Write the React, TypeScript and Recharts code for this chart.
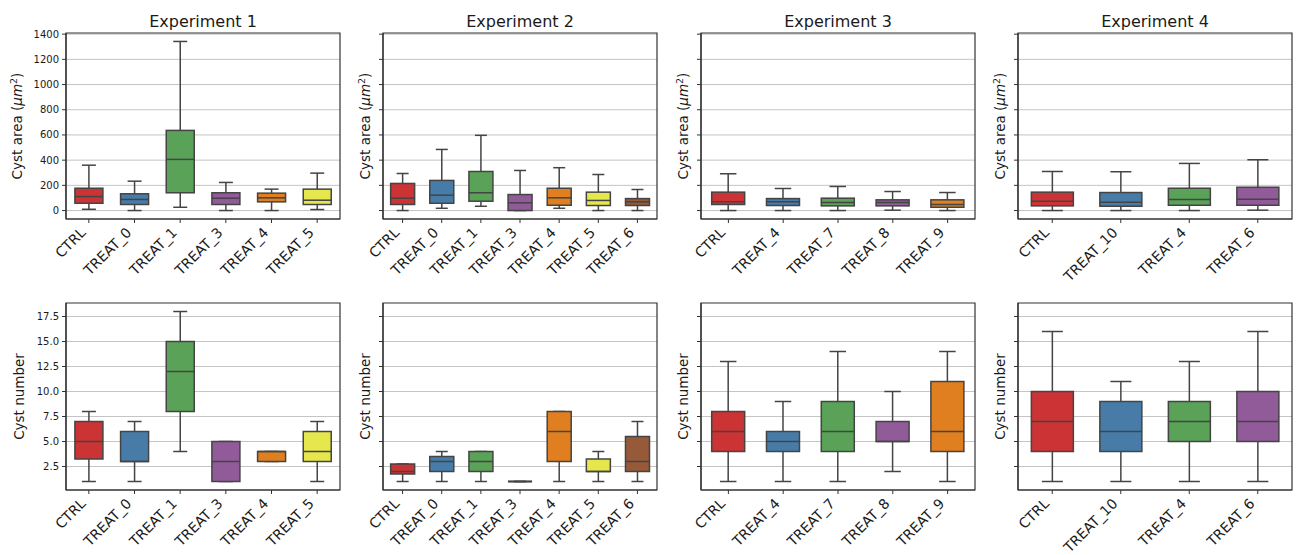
import React from 'react';
import { ComposedChart, Bar, XAxis, YAxis, CartesianGrid, ReferenceArea } from 'recharts';

// ---------- palette (seaborn Set1, desaturated) ----------
const palette = ['#cb3335', '#477ca8', '#59a257', '#915a99', '#df7f20', '#e6e64d', '#965a38'];

// ---------- Experiment 1 ----------
const exp1Categories = ['CTRL', 'TREAT_0', 'TREAT_1', 'TREAT_3', 'TREAT_4', 'TREAT_5'];
const exp1AreaMin = [10, 0, 26, 0, 0, 8];
const exp1AreaQ1 = [58, 48, 141, 48, 69, 48];
const exp1AreaMedian = [111, 88, 406, 98, 101, 82];
const exp1AreaQ3 = [177, 133, 636, 141, 138, 170];
const exp1AreaMax = [360, 233, 1342, 223, 170, 297];
const exp1NumMin = [1, 1, 4, 1, 3, 1];
const exp1NumQ1 = [3.25, 3, 8, 1, 3, 3];
const exp1NumMedian = [5, 3, 12, 3, 4, 4];
const exp1NumQ3 = [7, 6, 15, 5, 4, 6];
const exp1NumMax = [8, 7, 18, 5, 4, 7];

// ---------- Experiment 2 ----------
const exp2Categories = ['CTRL', 'TREAT_0', 'TREAT_1', 'TREAT_3', 'TREAT_4', 'TREAT_5', 'TREAT_6'];
const exp2AreaMin = [0, 18, 34, 0, 18, 0, 0];
const exp2AreaQ1 = [48, 58, 74, 0, 42, 40, 40];
const exp2AreaMedian = [98, 122, 141, 61, 101, 80, 69];
const exp2AreaQ3 = [215, 239, 310, 127, 177, 146, 95];
const exp2AreaMax = [294, 485, 597, 318, 340, 286, 167];
const exp2NumMin = [1, 1, 1, 1, 1, 1, 1];
const exp2NumQ1 = [1.75, 2, 2, 1, 3, 2, 2];
const exp2NumMedian = [2, 3, 3, 1, 6, 2, 3];
const exp2NumQ3 = [2.75, 3.5, 4, 1, 8, 3.25, 5.5];
const exp2NumMax = [2.75, 4, 4, 1, 8, 4, 7];

// ---------- Experiment 3 ----------
const exp3Categories = ['CTRL', 'TREAT_4', 'TREAT_7', 'TREAT_8', 'TREAT_9'];
const exp3AreaMin = [0, 0, 0, 3, 0];
const exp3AreaQ1 = [48, 40, 37, 37, 26];
const exp3AreaMedian = [69, 69, 64, 64, 48];
const exp3AreaQ3 = [146, 95, 98, 85, 85];
const exp3AreaMax = [292, 175, 191, 151, 143];
const exp3NumMin = [1, 1, 1, 2, 1];
const exp3NumQ1 = [4, 4, 4, 5, 4];
const exp3NumMedian = [6, 5, 6, 5, 6];
const exp3NumQ3 = [8, 6, 9, 7, 11];
const exp3NumMax = [13, 9, 14, 10, 14];

// ---------- Experiment 4 ----------
const exp4Categories = ['CTRL', 'TREAT_10', 'TREAT_4', 'TREAT_6'];
const exp4AreaMin = [0, 0, 0, 3];
const exp4AreaQ1 = [37, 34, 42, 42];
const exp4AreaMedian = [74, 66, 88, 90];
const exp4AreaQ3 = [146, 143, 177, 185];
const exp4AreaMax = [310, 308, 374, 403];
const exp4NumMin = [1, 1, 1, 1];
const exp4NumQ1 = [4, 4, 5, 5];
const exp4NumMedian = [7, 6, 7, 7];
const exp4NumQ3 = [10, 9, 9, 10];
const exp4NumMax = [16, 11, 13, 16];

// ---------- axes ----------
const areaTicks = [0, 200, 400, 600, 800, 1000, 1200, 1400];
const numTicks = [2.5, 5, 7.5, 10, 12.5, 15, 17.5];
const areaDomain: [number, number] = [-67.1, 1409.1];
const numDomain: [number, number] = [0.15, 18.85];

const EDGE = '#444444';
const SPINE = '#333333';
const FONT = '"DejaVu Sans", sans-serif';

const colLefts = [66, 383, 701, 1018];
const plotWidth = 274;
const AXIS_W = 66;

function buildRows(cats: string[], mins: number[], q1s: number[], meds: number[], q3s: number[], maxs: number[]) {
  return cats.map((name, i) => ({
    name,
    min: mins[i],
    q1: q1s[i],
    median: meds[i],
    q3: q3s[i],
    max: maxs[i],
  }));
}

const BoxShape = (props: any) => {
  const { x, y, width, height, payload, index } = props;
  if (!payload || x == null || y == null) return null;
  const pTop = Math.min(y, y + height); // pixel of max
  const pBot = Math.max(y, y + height); // pixel of min
  const hi = payload.max;
  const lo = payload.min;
  const toPx = (v: number) => (hi === lo ? pTop : pTop + ((hi - v) / (hi - lo)) * (pBot - pTop));
  const cx = x + width / 2;
  const yMax = toPx(hi);
  const yMin = toPx(lo);
  const yQ3 = toPx(payload.q3);
  const yQ1 = toPx(payload.q1);
  const yMed = toPx(payload.median);
  const capHalf = width / 4;
  const color = palette[index % palette.length];
  const sw = 1.5;
  return (
    <g>
      <line x1={cx} x2={cx} y1={yMax} y2={yQ3} stroke={EDGE} strokeWidth={sw} />
      <line x1={cx} x2={cx} y1={yQ1} y2={yMin} stroke={EDGE} strokeWidth={sw} />
      <line x1={cx - capHalf} x2={cx + capHalf} y1={yMax} y2={yMax} stroke={EDGE} strokeWidth={sw} />
      <line x1={cx - capHalf} x2={cx + capHalf} y1={yMin} y2={yMin} stroke={EDGE} strokeWidth={sw} />
      {yQ1 - yQ3 > 0.01 ? (
        <rect x={x} y={yQ3} width={width} height={yQ1 - yQ3} fill={color} stroke={EDGE} strokeWidth={sw} />
      ) : (
        <line x1={x} x2={x + width} y1={yQ3} y2={yQ3} stroke={EDGE} strokeWidth={sw * 1.3} />
      )}
      <line x1={x} x2={x + width} y1={yMed} y2={yMed} stroke={EDGE} strokeWidth={sw} />
    </g>
  );
};

const RotTick = (props: any) => {
  const { x, y, payload } = props;
  return (
    <text
      transform={`translate(${x - 2.3},${y + 8.5}) rotate(-45)`}
      textAnchor="end"
      fontSize={14}
      fill="#1a1a1a"
      fontFamily={FONT}
    >
      {payload.value}
    </text>
  );
};

type PanelProps = {
  col: number;
  rowTop: number;
  plotHeight: number;
  xAxisHeight: number;
  rows: any[];
  domain: [number, number];
  ticks: number[];
  fmt: (v: number) => string;
  yLabel: 'area' | 'number';
  labelOffset: number;
  title?: string;
};

function Panel({ col, rowTop, plotHeight, xAxisHeight, rows, domain, ticks, fmt, yLabel, labelOffset, title }: PanelProps) {
  const left = colLefts[col] - AXIS_W;
  const top = rowTop - 33;
  const width = AXIS_W + plotWidth + 2;
  const height = 33 + plotHeight + xAxisHeight;
  const showLabels = col === 0;
  const cy = 33 + plotHeight / 2;
  const lx = AXIS_W + labelOffset;

  const yLabelContent = () =>
    yLabel === 'area' ? (
      <text transform={`translate(${lx},${cy}) rotate(-90)`} textAnchor="middle" fontSize={13.5} fill="#1a1a1a" fontFamily={FONT}>
        <tspan>Cyst area (</tspan>
        <tspan fontStyle="italic">μm</tspan>
        <tspan fontSize={9.5} dy={-5}>2</tspan>
        <tspan dy={5}>)</tspan>
      </text>
    ) : (
      <text transform={`translate(${lx},${cy}) rotate(-90)`} textAnchor="middle" fontSize={13.5} fill="#1a1a1a" fontFamily={FONT}>
        Cyst number
      </text>
    );

  const frameLabel = (p: any) => {
    if (!title) return null;
    const vb = p && p.viewBox ? p.viewBox : { x: AXIS_W, y: 33, width: plotWidth };
    return (
      <text x={vb.x + vb.width / 2} y={vb.y - 6.5} textAnchor="middle" fontSize={16} fill="#1a1a1a" fontFamily={FONT}>
        {title}
      </text>
    );
  };

  return (
    <div style={{ position: 'absolute', left, top, width, height }}>
      <ComposedChart
        width={width}
        height={height}
        data={rows}
        margin={{ top: 33, right: 2, bottom: 0, left: 0 }}
        barCategoryGap="19.5%"
      >
        <CartesianGrid vertical={false} horizontalValues={ticks} stroke="#c4c4c4" strokeWidth={1} />
        <XAxis
          dataKey="name"
          type="category"
          height={xAxisHeight}
          interval={0}
          tickSize={4}
          tickMargin={2}
          tick={<RotTick />}
          tickLine={{ stroke: SPINE }}
          axisLine={{ stroke: SPINE, strokeWidth: 1.2 }}
        />
        <YAxis
          type="number"
          domain={domain}
          ticks={ticks}
          width={AXIS_W}
          interval={0}
          tickSize={4}
          tickMargin={3}
          tickFormatter={(v: number) => (showLabels ? fmt(v) : '')}
          tick={{ fontSize: 10, fill: '#1a1a1a', fontFamily: FONT }}
          tickLine={{ stroke: SPINE }}
          axisLine={{ stroke: SPINE, strokeWidth: 1.2 }}
          allowDataOverflow
          label={{ content: yLabelContent }}
        />
        <Bar
          dataKey={(d: any) => [d.min, d.max]}
          shape={<BoxShape />}
          isAnimationActive={false}
        />
        <ReferenceArea
          y1={domain[0]}
          y2={domain[1]}
          fill="none"
          fillOpacity={0}
          stroke={SPINE}
          strokeWidth={1.2}
          ifOverflow="visible"
          label={frameLabel}
        />
      </ComposedChart>
    </div>
  );
}

const areaFmt = (v: number) => String(Math.round(v));
const numFmt = (v: number) => v.toFixed(1);

export default function App() {
  const topRow = [
    { title: 'Experiment 1', rows: buildRows(exp1Categories, exp1AreaMin, exp1AreaQ1, exp1AreaMedian, exp1AreaQ3, exp1AreaMax) },
    { title: 'Experiment 2', rows: buildRows(exp2Categories, exp2AreaMin, exp2AreaQ1, exp2AreaMedian, exp2AreaQ3, exp2AreaMax) },
    { title: 'Experiment 3', rows: buildRows(exp3Categories, exp3AreaMin, exp3AreaQ1, exp3AreaMedian, exp3AreaQ3, exp3AreaMax) },
    { title: 'Experiment 4', rows: buildRows(exp4Categories, exp4AreaMin, exp4AreaQ1, exp4AreaMedian, exp4AreaQ3, exp4AreaMax) },
  ];
  const bottomRow = [
    buildRows(exp1Categories, exp1NumMin, exp1NumQ1, exp1NumMedian, exp1NumQ3, exp1NumMax),
    buildRows(exp2Categories, exp2NumMin, exp2NumQ1, exp2NumMedian, exp2NumQ3, exp2NumMax),
    buildRows(exp3Categories, exp3NumMin, exp3NumQ1, exp3NumMedian, exp3NumQ3, exp3NumMax),
    buildRows(exp4Categories, exp4NumMin, exp4NumQ1, exp4NumMedian, exp4NumQ3, exp4NumMax),
  ];
  return (
    <div style={{ position: 'absolute', left: 0, top: 0, width: 1303, height: 555, background: '#ffffff', fontFamily: FONT, overflow: 'hidden' }}>
      {topRow.map((p, i) => (
        <Panel
          key={`t${i}`}
          col={i}
          rowTop={33}
          plotHeight={186}
          xAxisHeight={76}
          rows={p.rows}
          domain={areaDomain}
          ticks={areaTicks}
          fmt={areaFmt}
          yLabel="area"
          labelOffset={i === 0 ? -44.5 : -12.8}
          title={p.title}
        />
      ))}
      {bottomRow.map((rows, i) => (
        <Panel
          key={`b${i}`}
          col={i}
          rowTop={303}
          plotHeight={187}
          xAxisHeight={85}
          rows={rows}
          domain={numDomain}
          ticks={numTicks}
          fmt={numFmt}
          yLabel="number"
          labelOffset={i === 0 ? -42.3 : -13.5}
        />
      ))}
    </div>
  );
}
